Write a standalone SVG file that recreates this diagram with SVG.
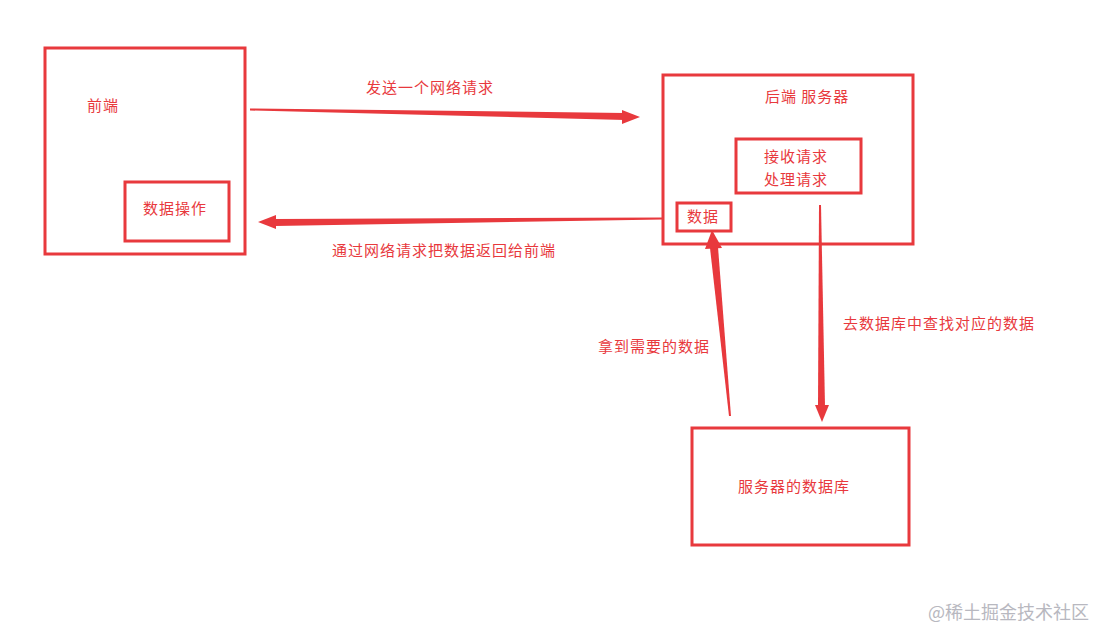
<svg xmlns="http://www.w3.org/2000/svg" width="1106" height="631" viewBox="0 0 1106 631">
<style>
.b{fill:none;stroke:#e8393d;stroke-width:3}
.t{font-family:"Noto Sans CJK SC",sans-serif;font-size:15px;letter-spacing:1px;fill:#e8393d}
.a{fill:#e8393d}
</style>
<rect width="1106" height="631" fill="#fff"/>
<g id="frontend"><rect class="b" x="45" y="48" width="200" height="206"/><text class="t" x="87" y="111">前端</text></g>
<g id="dataop"><rect class="b" x="125" y="182" width="104" height="59"/><text class="t" x="143" y="214">数据操作</text></g>
<g id="backend"><rect class="b" x="663" y="75" width="250" height="169"/><text class="t" x="765" y="102">后端 服务器</text></g>
<g id="process"><rect class="b" x="736" y="139" width="125" height="54"/><text class="t" x="764" y="162">接收请求</text><text class="t" x="764" y="185">处理请求</text></g>
<g id="data"><rect class="b" x="677" y="203" width="54" height="28"/><text class="t" x="687" y="222">数据</text></g>
<g id="db"><rect class="b" x="692" y="428" width="217" height="117"/><text class="t" x="738" y="492">服务器的数据库</text></g>
<g id="connectors">
<polygon class="a" points="250,108.5 625,113 625,120 250,110.5"/><polygon class="a" points="622,110 640,117 622,124"/>
<polygon class="a" points="663,217.5 275,219 275,226 663,219.5"/><polygon class="a" points="276,215 258,222 276,229"/>
<polygon class="a" points="731,416 729,416 710,248 718,247"/><polygon class="a" points="705,249 712,230 722,248"/>
<polygon class="a" points="819,205 821,205 825,406 818,406"/><polygon class="a" points="815,405 822,422 829,405"/>
<text class="t" x="366" y="93">发送一个网络请求</text>
<text class="t" x="332" y="256">通过网络请求把数据返回给前端</text>
<text class="t" x="598" y="352">拿到需要的数据</text>
<text class="t" x="843" y="329">去数据库中查找对应的数据</text>
</g>
<text x="928" y="619" style="font-family:'Noto Sans CJK SC',sans-serif;font-size:18px;fill:#b8b8c0">@稀土掘金技术社区</text>
</svg>
